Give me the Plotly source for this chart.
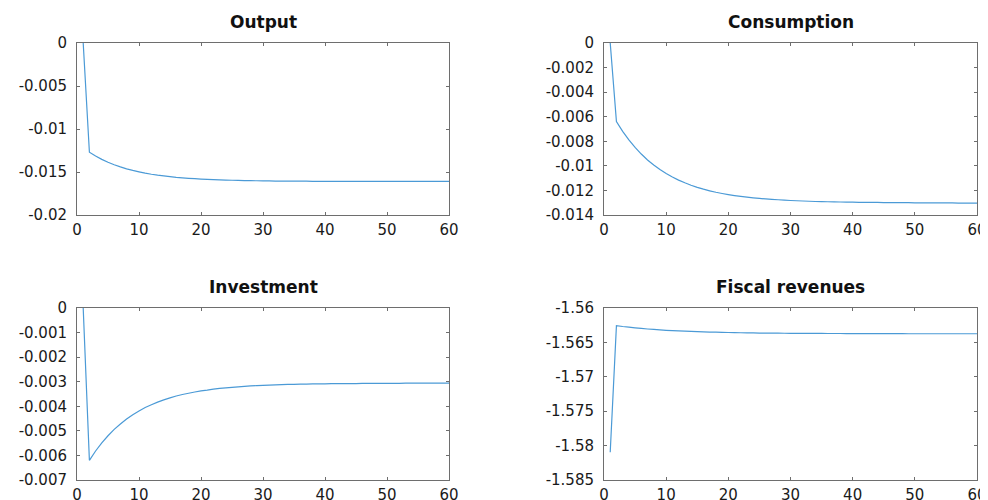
import plotly.graph_objects as go

periods = list(range(1, 61))

output = [0.0, -0.01270, -0.01314, -0.01353, -0.01386, -0.01415, -0.01441, -0.01463, -0.01482, -0.01498,
          -0.01513, -0.01526, -0.01537, -0.01546, -0.01554, -0.01562, -0.01568, -0.01573, -0.01578, -0.01582,
          -0.01586, -0.01589, -0.01592, -0.01594, -0.01596, -0.01598, -0.01600, -0.01601, -0.01602, -0.01603,
          -0.01604, -0.01605, -0.01605, -0.01606, -0.01607, -0.01607, -0.01607, -0.01608, -0.01608, -0.01608,
          -0.01608, -0.01609, -0.01609, -0.01609, -0.01609, -0.01609, -0.01609, -0.01609, -0.01610, -0.01610,
          -0.01610, -0.01610, -0.01610, -0.01610, -0.01610, -0.01610, -0.01610, -0.01610, -0.01610, -0.01610]

consumption = [0.0, -0.00640, -0.00719, -0.00789, -0.00850, -0.00904, -0.00952, -0.00993, -0.01030, -0.01063,
               -0.01091, -0.01116, -0.01138, -0.01158, -0.01175, -0.01190, -0.01203, -0.01215, -0.01225, -0.01234,
               -0.01242, -0.01249, -0.01255, -0.01260, -0.01265, -0.01269, -0.01273, -0.01276, -0.01279, -0.01282,
               -0.01284, -0.01286, -0.01288, -0.01290, -0.01291, -0.01292, -0.01293, -0.01294, -0.01295, -0.01296,
               -0.01297, -0.01297, -0.01298, -0.01298, -0.01299, -0.01299, -0.01300, -0.01300, -0.01300, -0.01301,
               -0.01301, -0.01301, -0.01302, -0.01302, -0.01302, -0.01302, -0.01303, -0.01303, -0.01303, -0.01303]

investment = [0.0, -0.00620, -0.00582, -0.00549, -0.00520, -0.00494, -0.00472, -0.00452, -0.00434, -0.00419,
              -0.00405, -0.00394, -0.00383, -0.00374, -0.00366, -0.00358, -0.00352, -0.00347, -0.00342, -0.00337,
              -0.00334, -0.00330, -0.00327, -0.00325, -0.00323, -0.00321, -0.00319, -0.00317, -0.00316, -0.00315,
              -0.00314, -0.00313, -0.00312, -0.00311, -0.00311, -0.00310, -0.00310, -0.00309, -0.00309, -0.00309,
              -0.00308, -0.00308, -0.00308, -0.00308, -0.00308, -0.00307, -0.00307, -0.00307, -0.00307, -0.00307,
              -0.00307, -0.00307, -0.00306, -0.00306, -0.00306, -0.00306, -0.00306, -0.00306, -0.00306, -0.00306]

fiscal = [-1.58097, -1.56257, -1.56269, -1.56279, -1.56289, -1.56297, -1.56305, -1.56312, -1.56318, -1.56324,
          -1.56329, -1.56333, -1.56337, -1.56341, -1.56344, -1.56347, -1.56350, -1.56352, -1.56354, -1.56356,
          -1.56358, -1.56360, -1.56361, -1.56362, -1.56364, -1.56365, -1.56366, -1.56366, -1.56367, -1.56368,
          -1.56368, -1.56369, -1.56370, -1.56370, -1.56370, -1.56371, -1.56371, -1.56371, -1.56372, -1.56372,
          -1.56372, -1.56372, -1.56373, -1.56373, -1.56373, -1.56373, -1.56373, -1.56373, -1.56374, -1.56374,
          -1.56374, -1.56374, -1.56374, -1.56374, -1.56374, -1.56374, -1.56374, -1.56374, -1.56374, -1.56374]

titles = ["Output", "Consumption", "Investment", "Fiscal revenues"]

x_ticks = [0, 10, 20, 30, 40, 50, 60]
x_ticklabels = ["0", "10", "20", "30", "40", "50", "60"]

y_ticks = [
    [0, -0.005, -0.01, -0.015, -0.02],
    [0, -0.002, -0.004, -0.006, -0.008, -0.01, -0.012, -0.014],
    [0, -0.001, -0.002, -0.003, -0.004, -0.005, -0.006, -0.007],
    [-1.56, -1.565, -1.57, -1.575, -1.58, -1.585],
]
y_ticklabels = [
    ["0", "-0.005", "-0.01", "-0.015", "-0.02"],
    ["0", "-0.002", "-0.004", "-0.006", "-0.008", "-0.01", "-0.012", "-0.014"],
    ["0", "-0.001", "-0.002", "-0.003", "-0.004", "-0.005", "-0.006", "-0.007"],
    ["-1.56", "-1.565", "-1.57", "-1.575", "-1.58", "-1.585"],
]
y_ranges = [[-0.02, 0], [-0.014, 0], [-0.007, 0], [-1.585, -1.56]]

series = [output, consumption, investment, fiscal]

# The page body adds an 8px margin; the figure reaches the window's right/bottom edges.
OFF = 8
W, H = 988 - OFF, 500 - OFF
# pixel boxes in window coordinates: (left, right, top, bottom)
boxes = [(77, 449, 43, 215), (604, 977, 43, 215), (77, 449, 308, 480), (604, 977, 308, 480)]

fig = go.Figure()
font_family = "DejaVu Sans"
line_color = "#4b9ad6"
axis_color = "#6e6e6e"

for i in range(4):
    l, r, t, b = [v - OFF for v in boxes[i]]
    xa = "x" if i == 0 else f"x{i+1}"
    ya = "y" if i == 0 else f"y{i+1}"
    fig.add_trace(go.Scatter(x=periods, y=series[i], mode="lines",
                             line=dict(color=line_color, width=1.2, simplify=False),
                             xaxis=xa, yaxis=ya, showlegend=False))
    xkey = "xaxis" if i == 0 else f"xaxis{i+1}"
    ykey = "yaxis" if i == 0 else f"yaxis{i+1}"
    common = dict(showline=True, linecolor=axis_color, linewidth=1, mirror="ticks",
                  ticks="inside", ticklen=3, tickcolor=axis_color, showgrid=False,
                  zeroline=False, automargin=False, ticklabeloverflow="allow",
                  tickfont=dict(family=font_family, size=15, color="#1a1a1a"))
    fig.update_layout({
        xkey: dict(domain=[l / W, r / W], range=[0, 60], anchor=ya,
                   tickvals=x_ticks, ticktext=x_ticklabels, ticklabelstandoff=1, **common),
        ykey: dict(domain=[1 - b / H, 1 - t / H], range=y_ranges[i], anchor=xa,
                   tickvals=y_ticks[i], ticktext=y_ticklabels[i], ticklabelstandoff=6, **common),
    })
    fig.add_annotation(text=f"<b>{titles[i]}</b>", x=(l + r) / 2 / W, y=1 - (t - 21) / H,
                       xref="paper", yref="paper", showarrow=False,
                       font=dict(family=font_family, size=17, color="#111111"),
                       xanchor="center", yanchor="middle")

fig.update_layout(width=W, height=H, margin=dict(l=0, r=0, t=0, b=0),
                  plot_bgcolor="white", paper_bgcolor="white")

fig.write_html("out.html")
